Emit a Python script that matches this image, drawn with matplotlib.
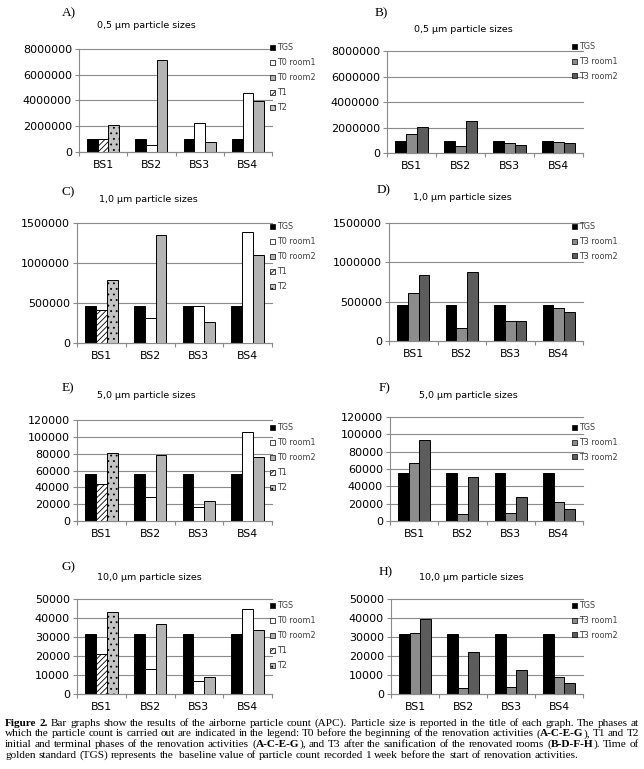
import numpy as np
import matplotlib
matplotlib.use("Agg")
from matplotlib import pyplot as plt
from matplotlib.patches import Patch

nan = np.nan

sites = ["BS1", "BS2", "BS3", "BS4"]

# 0,5 um
a_tgs = [990000, 990000, 990000, 990000]
a_t0_room1 = [nan, 520000, 2230000, 4600000]
a_t0_room2 = [nan, 7140000, 780000, 3950000]
a_t1 = [990000, nan, nan, nan]
a_t2 = [2090000, nan, nan, nan]
b_tgs = [950000, 950000, 950000, 950000]
b_t3_room1 = [1490000, 520000, 780000, 860000]
b_t3_room2 = [2070000, 2480000, 650000, 780000]

# 1,0 um
c_tgs = [458000, 458000, 458000, 458000]
c_t0_room1 = [nan, 317000, 458000, 1387000]
c_t0_room2 = [nan, 1346000, 258000, 1104000]
c_t1 = [417000, nan, nan, nan]
c_t2 = [792000, nan, nan, nan]
d_tgs = [456000, 456000, 456000, 456000]
d_t3_room1 = [608000, 160000, 249000, 423000]
d_t3_room2 = [845000, 883000, 249000, 363000]

# 5,0 um
e_tgs = [56000, 56000, 56000, 56000]
e_t0_room1 = [nan, 28400, 17000, 105400]
e_t0_room2 = [nan, 78200, 24100, 75800]
e_t1 = [43400, nan, nan, nan]
e_t2 = [81300, nan, nan, nan]
f_tgs = [55000, 55000, 55000, 55000]
f_t3_room1 = [66500, 8400, 9200, 22200]
f_t3_room2 = [92900, 51200, 27500, 14100]

# 10,0 um
g_tgs = [31800, 31800, 31800, 31800]
g_t0_room1 = [nan, 13000, 6800, 44900]
g_t0_room2 = [nan, 36800, 8800, 33500]
g_t1 = [21100, nan, nan, nan]
g_t2 = [43000, nan, nan, nan]
h_tgs = [31800, 31800, 31800, 31800]
h_t3_room1 = [32300, 3200, 3700, 9100]
h_t3_room2 = [39300, 21900, 12600, 6000]

titles = ["0,5 µm particle sizes", "1,0 µm particle sizes",
          "5,0 µm particle sizes", "10,0 µm particle sizes"]
y_max = [8000000, 1500000, 120000, 50000]
y_step = [2000000, 500000, 20000, 10000]

left_labels = ["TGS", "T0 room1", "T0 room2", "T1", "T2"]
right_labels = ["TGS", "T3 room1", "T3 room2"]

caption = [
    "*Figure* *2.* Bar graphs show the results of the airborne particle count (APC). Particle size is reported in the title of each graph. The phases at",
    "which the particle count is carried out are indicated in the legend: T0 before the beginning of the renovation activities (*A-C-E-G*), T1 and T2",
    "initial and terminal phases of the renovation activities (*A-C-E-G*), and T3 after the sanification of the renovated rooms (*B-D-F-H*). Time of",
    "golden standard (TGS) represents the  baseline value of particle count recorded 1 week before the start of renovation activities.",
]

W, H = 644, 769
plt.rcParams["font.family"] = "DejaVu Sans"
plt.rcParams["hatch.linewidth"] = 0.6
fig = plt.figure(figsize=(W / 100, H / 100), dpi=100)
fig.patch.set_facecolor("white")

GRAY = "#8a8a8a"
BW = 0.222

# style per series: facecolor, hatch
styles = {
    "TGS": ("black", None),
    "T0 room1": ("white", None),
    "T0 room2": ("#b4b4b4", None),
    "T1": ("white", "//////"),
    "T2": ("#c4c4c4", "..."),
    "T3 room1": ("#8c8c8c", None),
    "T3 room2": ("#5c5c5c", None),
}


def make_axes(l, t, r, b):
    return fig.add_axes([l / W, 1 - b / H, (r - l) / W, (b - t) / H])


def style_axes(ax, k):
    ax.set_xlim(-0.5, 3.5)
    ax.set_ylim(0, y_max[k])
    ax.set_yticks(np.arange(0, y_max[k] + 1, y_step[k]))
    ax.set_yticklabels([str(int(v)) for v in ax.get_yticks()])
    ax.set_xticks(range(4))
    ax.set_xticklabels(sites)
    ax.set_xticks(np.arange(-0.5, 4, 1), minor=True)
    ax.tick_params(axis="x", which="major", length=0, pad=6, labelsize=7.8)
    ax.tick_params(axis="x", which="minor", length=3, color=GRAY, width=0.8)
    ax.tick_params(axis="y", length=3, color=GRAY, width=0.8, labelsize=8, pad=2)
    for s in ["top", "right"]:
        ax.spines[s].set_visible(False)
    for s in ["left", "bottom"]:
        ax.spines[s].set_color(GRAY)
        ax.spines[s].set_linewidth(0.8)
    ax.grid(axis="y", color=GRAY, linewidth=0.8)
    ax.set_axisbelow(True)
    for gl in ax.get_ygridlines():
        gl.set_clip_on(False)


def draw_bars(ax, series):
    # series: list of (label, values, slot)
    x = np.arange(4)
    for label, vals, slot in series:
        fc, hatch = styles[label]
        ax.bar(x + (slot - 1) * BW, vals, BW, color=fc, edgecolor="black",
               linewidth=0.7, hatch=hatch)


def add_legend(ax, labels, x, y, spacing):
    handles = [Patch(facecolor=styles[lb][0], hatch=styles[lb][1],
                     edgecolor="black", linewidth=0.5) for lb in labels]
    leg = ax.legend(handles, labels, loc="upper left",
                    bbox_to_anchor=(x / W, 1 - (y - 4.7) / H),
                    bbox_transform=fig.transFigure, frameon=False,
                    fontsize=5.8, labelspacing=spacing, handlelength=0.6,
                    handleheight=0.6, handletextpad=0.3, borderpad=0,
                    borderaxespad=0)
    for t in leg.get_texts():
        t.set_color("#404040")


left_rects = [(79, 49, 272, 152), (77, 223, 272, 343), (77, 420, 272, 521), (77, 599, 272, 694)]
right_rects = [(387, 51, 583, 153), (389, 223, 583, 341), (390, 417, 583, 521), (391, 599, 583, 694)]
left_leg_y = [48, 227, 428, 606]
right_leg_y = [47, 227, 428, 606]
letters_left = ["A)", "C)", "E)", "G)"]
letters_right = ["B)", "D)", "F)", "H)"]
letter_pos_left = [(62, 13), (62, 192), (62, 388), (62, 567)]
letter_pos_right = [(375, 13), (377, 190), (379, 388), (379, 572)]
title_pos_left = [(97, 25), (99, 200), (97, 395), (97, 578)]
title_pos_right = [(414, 29), (413, 198), (419, 395), (419, 578)]

left_data = [
    (a_tgs, a_t0_room1, a_t0_room2, a_t1, a_t2),
    (c_tgs, c_t0_room1, c_t0_room2, c_t1, c_t2),
    (e_tgs, e_t0_room1, e_t0_room2, e_t1, e_t2),
    (g_tgs, g_t0_room1, g_t0_room2, g_t1, g_t2),
]
right_data = [
    (b_tgs, b_t3_room1, b_t3_room2),
    (d_tgs, d_t3_room1, d_t3_room2),
    (f_tgs, f_t3_room1, f_t3_room2),
    (h_tgs, h_t3_room1, h_t3_room2),
]

for k in range(4):
    ax = make_axes(*left_rects[k])
    tgs, r1, r2, t1, t2 = left_data[k]
    draw_bars(ax, [("TGS", tgs, 0), ("T0 room1", r1, 1), ("T1", t1, 1),
                   ("T0 room2", r2, 2), ("T2", t2, 2)])
    style_axes(ax, k)
    add_legend(ax, left_labels, 270, left_leg_y[k], 0.75)
    fig.text(letter_pos_left[k][0] / W, 1 - letter_pos_left[k][1] / H, letters_left[k],
             family="Liberation Serif", fontsize=9.5, va="center")
    fig.text(title_pos_left[k][0] / W, 1 - title_pos_left[k][1] / H, titles[k],
             fontsize=6.8, va="center")

    ax = make_axes(*right_rects[k])
    tgs, r1, r2 = right_data[k]
    draw_bars(ax, [("TGS", tgs, 0), ("T3 room1", r1, 1), ("T3 room2", r2, 2)])
    style_axes(ax, k)
    add_legend(ax, right_labels, 572, right_leg_y[k], 0.7)
    fig.text(letter_pos_right[k][0] / W, 1 - letter_pos_right[k][1] / H, letters_right[k],
             family="Liberation Serif", fontsize=9.5, va="center")
    fig.text(title_pos_right[k][0] / W, 1 - title_pos_right[k][1] / H, titles[k],
             fontsize=6.8, va="center")

# caption, justified like the source
CAP_SIZE = 8.1
renderer = fig.canvas.get_renderer()


def piece_width(s, bold):
    t = fig.text(0, 0, s, fontsize=CAP_SIZE, family="Liberation Serif",
                 weight="bold" if bold else "normal")
    w = t.get_window_extent(renderer).width
    t.remove()
    return w


space_w = piece_width("a a", False) - 2 * piece_width("a", False)
x0, x1 = 5, 639
baselines = [726, 736.5, 747, 758]
for i, line in enumerate(caption):
    words = []
    for word in line.split(" "):
        parts = [(p, j % 2 == 1) for j, p in enumerate(word.split("*")) if p]
        widths = [piece_width(p, b) for p, b in parts]
        words.append((parts, widths))
    total = sum(sum(w) for _, w in words)
    if i < len(caption) - 1:
        gap = max((x1 - x0 - total) / (len(words) - 1), 0.6 * space_w)
    else:
        gap = space_w
    x = x0
    for parts, widths in words:
        for (p, b), w in zip(parts, widths):
            fig.text(x / W, 1 - baselines[i] / H, p, fontsize=CAP_SIZE,
                     family="Liberation Serif", weight="bold" if b else "normal",
                     va="baseline")
            x += w
        x += gap

fig.savefig("out.png", dpi=100, facecolor="white")
